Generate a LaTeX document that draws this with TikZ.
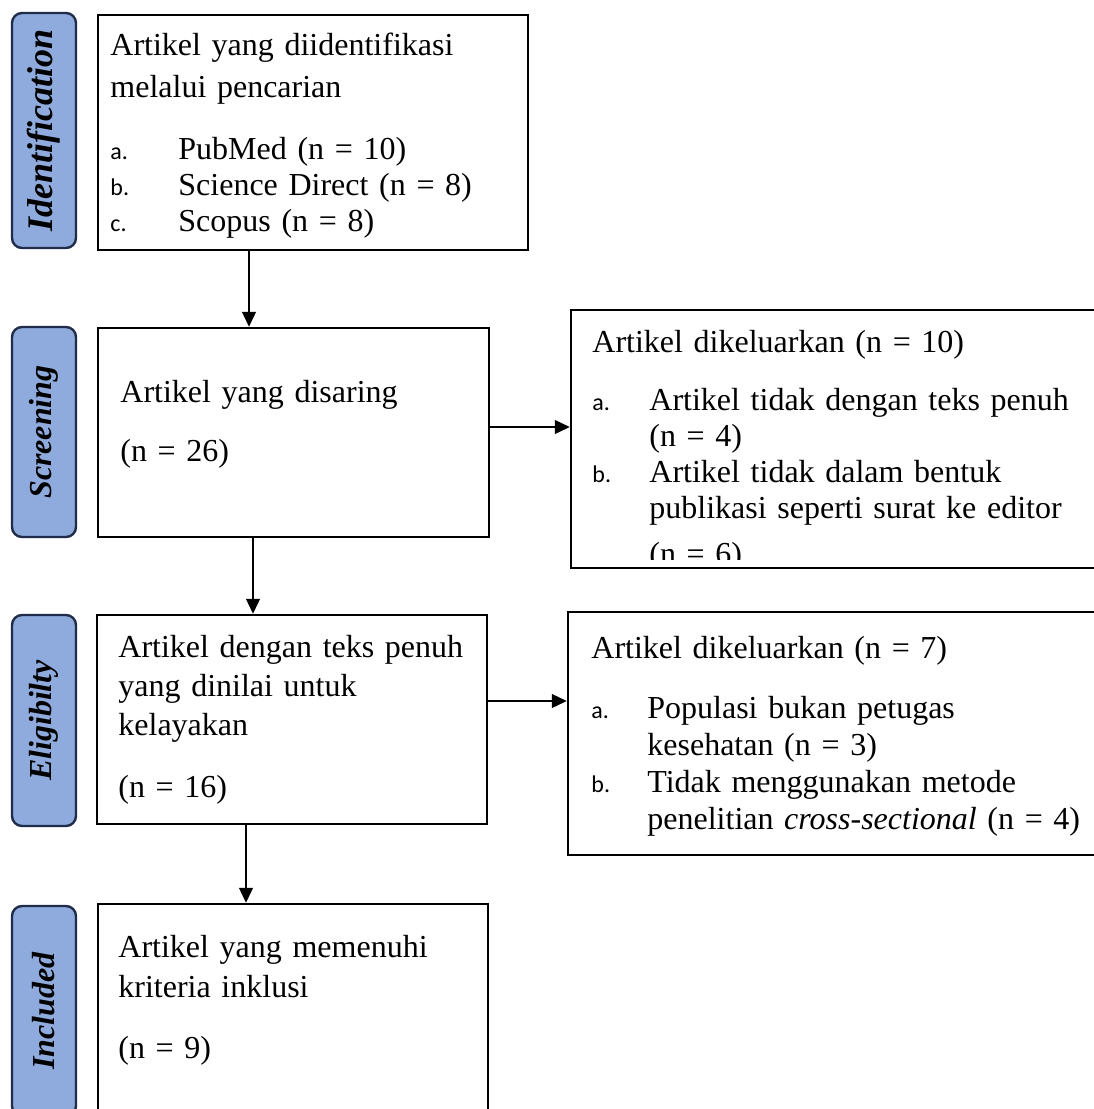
\documentclass[tikz,border=0pt]{standalone}
\usepackage{fontspec}
\setmainfont{Liberation Serif}
\newfontfamily\markfont{Carlito}
\usepackage{tikz}
\usetikzlibrary{arrows.meta}
\definecolor{stagefill}{HTML}{8FAADC}
\definecolor{stageline}{HTML}{1F2D4A}
\newcommand{\mk}[2][28.5pt]{\makebox[#1][l]{\markfont\fontsize{12pt}{14pt}\selectfont #2}}

\begin{document}
\begin{tikzpicture}
      [x=0.5pt, y=-0.5pt]

      \tikzstyle{stage} = [draw=stageline, fill=stagefill, line width=1.2pt, rounded corners=5pt, rotate=90, inner sep=0pt, minimum height=32pt, font=\fontsize{16pt}{18pt}\selectfont\bfseries\itshape]
      \tikzstyle{flowbox} = [draw, line width=1.25pt, inner sep=0pt]
      \tikzstyle{boxtext} = [anchor=base west, inner sep=0pt, text width=260pt, align=left, font=\fontsize{16pt}{18pt}\selectfont]

      \useasboundingbox (0,0) rectangle (1093,1109);

      % stage labels
      \node[stage, minimum width=117.5pt, font=\fontsize{18pt}{20pt}\selectfont\bfseries\itshape] (idlab) at (44,130.5) {Identification};
      \node[stage, minimum width=105pt]   (scrlab)  at (44,432)   {Screening};
      \node[stage, minimum width=105.5pt] (eliglab) at (44,720.5) {Eligibilty};
      \node[stage, minimum width=105pt]   (incllab) at (44,1011)  {Included};

      % boxes
      \node[flowbox, minimum width=215pt, minimum height=117.5pt]   (ident)  at (313,132.5) {};
      \node[flowbox, minimum width=195.5pt, minimum height=104.5pt] (screen) at (293.5,432.5) {};
      \node[flowbox, minimum width=264.5pt, minimum height=129pt]   (excl1)  at (835.5,439) {};
      \node[flowbox, minimum width=195pt, minimum height=104.5pt]   (elig)   at (292,719.5) {};
      \node[flowbox, minimum width=266pt, minimum height=121.5pt]   (excl2)  at (834,733.5) {};
      \node[flowbox, minimum width=195pt, minimum height=108pt]     (incl)   at (293,1012) {};

      % box texts
      \node[boxtext] (t1) at (110,55) {Artikel yang diidentifikasi\\[3pt]
            melalui pencarian\\[13pt]
            \mk[34pt]{a.}PubMed (n = 10)\\
            \mk[34pt]{b.}Science Direct (n = 8)\\
            \mk[34pt]{c.}Scopus (n = 8)};
      \node[boxtext] (t2) at (120,402) {Artikel yang disaring\\[11.5pt]
            (n = 26)};
      \begin{scope}
            \clip (excl1.north west) rectangle ([yshift=5pt]excl1.south east);
            \node[boxtext] (t3) at (592,352) {Artikel dikeluarkan (n = 10)\\[11pt]
                  \mk{a.}Artikel tidak dengan teks penuh\\
                  \hspace*{28.5pt}(n = 4)\\
                  \mk{b.}Artikel tidak dalam bentuk\\
                  \hspace*{28.5pt}publikasi seperti surat ke editor\\[5pt]
                  \hspace*{28.5pt}(n = 6)};
      \end{scope}
      \node[boxtext] (t4) at (118,657) {Artikel dengan teks penuh\\[1.5pt]
            yang dinilai untuk\\[1.5pt]
            kelayakan\\[13pt]
            (n = 16)};
      \node[boxtext] (t5) at (591,658) {Artikel dikeluarkan (n = 7)\\[12pt]
            \mk[28pt]{a.}Populasi bukan petugas\\[0.5pt]
            \hspace*{28pt}kesehatan (n = 3)\\[0.5pt]
            \mk[28pt]{b.}Tidak menggunakan metode\\[0.5pt]
            \hspace*{28pt}penelitian \textit{cross-sectional} (n = 4)};
      \node[boxtext] (t6) at (118,957) {Artikel yang memenuhi\\[2pt]
            kriteria inklusi\\[12.5pt]
            (n = 9)};

      \path[->, >={Triangle[length=7.5pt,width=7pt]}, line width=0.65pt]
            (ident.south -| 249,0) edge (screen.north -| 249,0)
            (screen.east |- 0,427) edge (excl1.west |- 0,427)
            (screen.south -| 253,0) edge (elig.north -| 253,0)
            (elig.east |- 0,701) edge (excl2.west |- 0,701)
            (elig.south -| 246,0) edge (incl.north -| 246,0);
\end{tikzpicture}
\end{document}
